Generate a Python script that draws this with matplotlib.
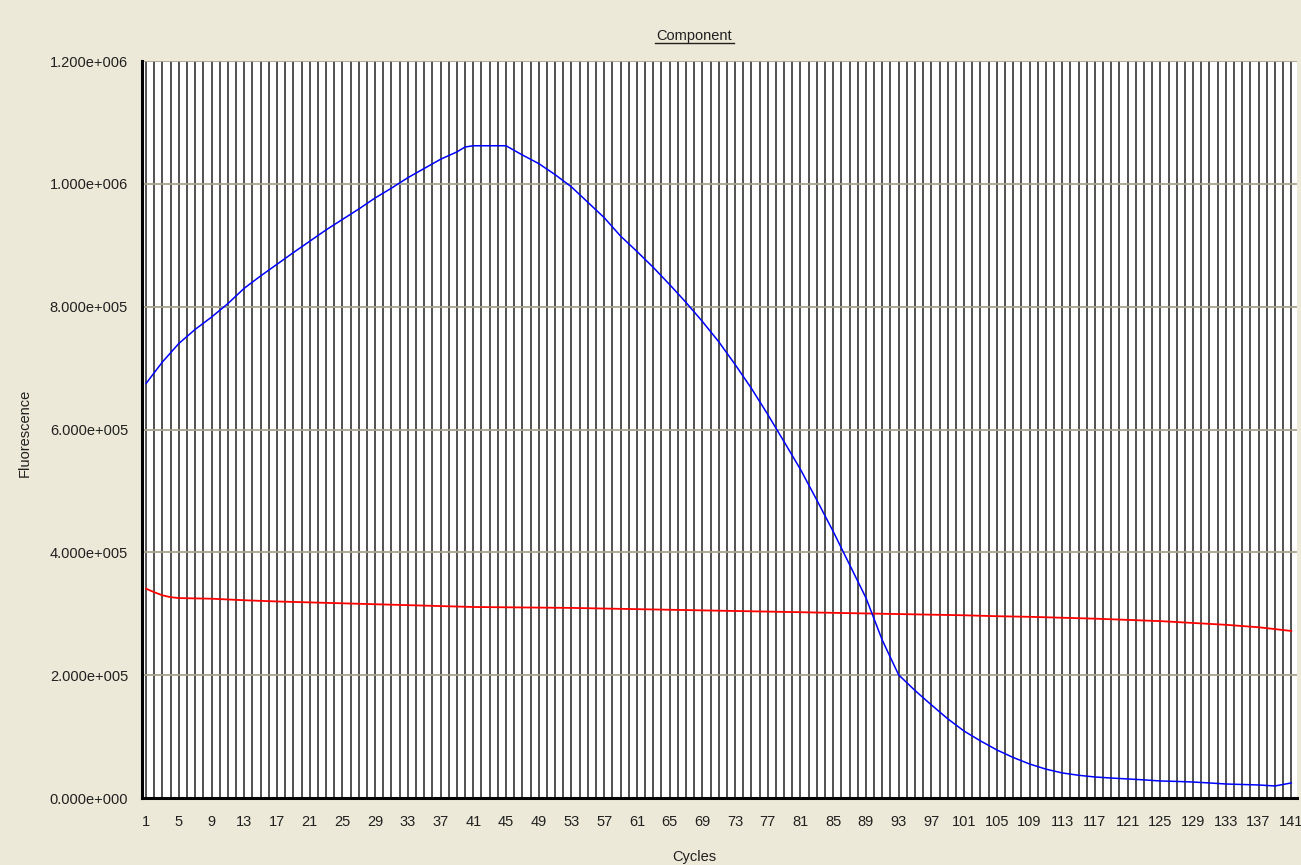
import matplotlib
matplotlib.use("Agg")
import matplotlib.pyplot as plt
import numpy as np

# Data
blue_cycles = [1, 3, 5, 7, 9, 11, 13, 15, 17, 19, 21, 23, 25, 27, 29, 31, 33, 35, 37, 39, 40,
               41, 45, 47, 49, 51, 53, 55, 57, 59, 61, 63, 65, 67, 69, 71, 73, 75, 77, 79, 81,
               83, 85, 87, 89, 91, 93, 95, 97, 99, 101, 103, 105, 107, 109, 111, 113, 115, 117,
               119, 121, 123, 125, 127, 129, 131, 133, 135, 137, 139, 141]
blue_values = [675000, 710000, 740000, 763000, 783000, 805000, 830000, 850000, 869000, 888000,
               906500, 925000, 942000, 959000, 977000, 993000, 1010000, 1025000, 1040000,
               1052000, 1060000,
               1062000, 1062000, 1047000, 1033000, 1015000, 995000, 970000, 945000, 915000,
               890000, 864000, 836000, 807000, 776000, 743000, 706000, 667000, 624500, 580000,
               535000, 485000, 434000, 380000, 326000, 257000, 200500, 175000, 151600, 129000,
               109000, 93000, 78300, 66000, 55400, 47000, 40800, 37000, 34200, 32500, 31000,
               29500, 27700, 27000, 26000, 24500, 22800, 22000, 21200, 19600, 24500]

red_cycles = [1, 2, 3, 4, 5, 9, 13, 17, 21, 25, 29, 33, 37, 41, 45, 49, 53, 57, 61, 65, 69, 73,
              77, 81, 85, 89, 93, 97, 101, 105, 109, 113, 117, 121, 125, 129, 133, 137, 141]
red_values = [340800, 335000, 330000, 327000, 325500, 324500, 322000, 320000, 318500, 317000,
              315500, 314000, 312500, 311000, 310500, 310000, 309500, 308500, 307500, 306500,
              305500, 304500, 303500, 302500, 301500, 300500, 299500, 298500, 297500, 296000,
              295000, 293500, 292000, 290000, 288000, 285000, 282000, 278000, 272000]

tick_labels = [str(c) for c in range(1, 142, 4)]
y_ticks = [0, 200000, 400000, 600000, 800000, 1000000, 1200000]
y_tick_labels = ["0.000e+000", "2.000e+005", "4.000e+005", "6.000e+005",
                 "8.000e+005", "1.000e+006", "1.200e+006"]

bg = "#ece9d8"
plt.rcParams['font.family'] = ['Liberation Sans', 'DejaVu Sans']
fs = 10.5

fig = plt.figure(figsize=(13.01, 8.65), dpi=100, facecolor=bg)
W, H = 1301, 865
ax = fig.add_axes([142 / W, 1 - 798 / H, (1297 - 142) / W, (798 - 61) / H])
ax.set_facecolor("white")

# vertical line for every cycle
for c in range(1, 142):
    ax.axvline(c, color="#3c3c3c", linewidth=1.25, zorder=1)
# horizontal grid
for yv in y_ticks[1:]:
    ax.axhline(yv, color="#a8a290", linewidth=1.3, zorder=2)

ax.plot(red_cycles, red_values, color="#ff0000", linewidth=1.3, zorder=3)
ax.plot(blue_cycles, blue_values, color="#0000ff", linewidth=1.1, zorder=4)

ax.set_xlim(0.5, 141.7)
ax.set_ylim(0, 1200000)

ax.set_xticks(list(range(1, 142, 4)))
ax.set_xticklabels(tick_labels, fontsize=fs, color="#202020")
ax.set_yticks(y_ticks)
ax.set_yticklabels(y_tick_labels, fontsize=fs, color="#202020")
ax.tick_params(axis="both", length=0)
ax.tick_params(axis="x", pad=12)
ax.tick_params(axis="y", pad=10)

for s in ["top", "right"]:
    ax.spines[s].set_visible(False)
ax.spines["left"].set_linewidth(2.2)
ax.spines["left"].set_color("black")
ax.spines["bottom"].set_linewidth(2.2)
ax.spines["bottom"].set_color("black")

fig.text(694 / W, 1 - 36 / H, "Component", ha="center", va="center", fontsize=fs,
         color="#202020")
# underline
fig.add_artist(plt.Line2D([655 / W, 734 / W], [1 - 43 / H, 1 - 43 / H], color="#202020",
                          linewidth=1.0))
fig.text(694 / W, 1 - 857 / H, "Cycles", ha="center", va="center", fontsize=fs,
         color="#202020")
fig.text(25 / W, 1 - 433 / H, "Fluorescence", ha="center", va="center", rotation=90,
         fontsize=fs, color="#202020")

fig.savefig("out.png", dpi=100, facecolor=bg)
